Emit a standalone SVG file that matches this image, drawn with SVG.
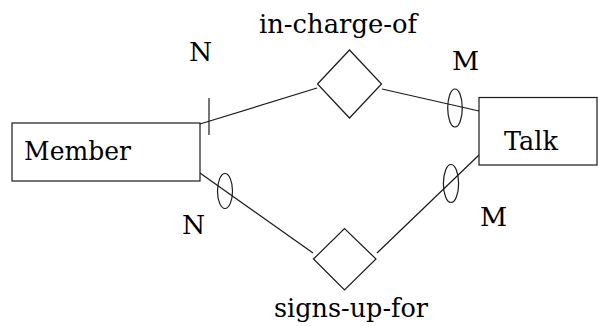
<svg xmlns="http://www.w3.org/2000/svg" width="598" height="326" viewBox="0 0 598 326">
  <style>
    .shape { fill: #ffffff; stroke: #1a1a1a; stroke-width: 1.2; }
    .link { fill: none; stroke: #1a1a1a; stroke-width: 1.2; }
    .card { fill: none; stroke: #1a1a1a; stroke-width: 1.2; }
    .lbl { font-family: 'DejaVu Serif', 'Liberation Serif', serif; font-size: 26.5px; fill: #000000; }
  </style>
  <rect width="598" height="326" fill="#ffffff"/>

  <!-- connectors with cardinality marks -->
  <g id="connectors">
    <line class="link" x1="200" y1="124" x2="317" y2="88"/>
    <line class="card" x1="209" y1="98" x2="209" y2="135"/>
    <line class="link" x1="382" y1="89" x2="479" y2="111"/>
    <ellipse class="card" cx="455" cy="108" rx="7.3" ry="19"/>
    <line class="link" x1="200" y1="173" x2="313" y2="253"/>
    <ellipse class="card" cx="225" cy="191" rx="7.5" ry="17.5"/>
    <line class="link" x1="377" y1="253" x2="479" y2="155"/>
    <ellipse class="card" cx="451" cy="183.5" rx="7.6" ry="19"/>
  </g>

  <g id="member">
    <rect class="shape" x="12" y="123" width="188" height="58"/>
    <text class="lbl" x="24" y="160" textLength="107" lengthAdjust="spacingAndGlyphs">Member</text>
  </g>

  <g id="talk">
    <rect class="shape" x="479" y="97.5" width="118" height="67.5"/>
    <text class="lbl" x="504" y="150" textLength="54" lengthAdjust="spacingAndGlyphs">Talk</text>
  </g>

  <g id="in-charge-of">
    <polygon class="shape" points="317.5,84 349.5,50 381.5,84 349.5,118"/>
    <text class="lbl" x="259" y="33" textLength="158" lengthAdjust="spacingAndGlyphs">in-charge-of</text>
  </g>

  <g id="signs-up-for">
    <polygon class="shape" points="313.5,259 344.5,228.5 376,259 344.5,290"/>
    <text class="lbl" x="274" y="317" textLength="154" lengthAdjust="spacingAndGlyphs">signs-up-for</text>
  </g>

  <!-- cardinality labels -->
  <g id="labels">
    <text class="lbl" x="189" y="61">N</text>
    <text class="lbl" x="452" y="70">M</text>
    <text class="lbl" x="182" y="234">N</text>
    <text class="lbl" x="480" y="226">M</text>
  </g>
</svg>
